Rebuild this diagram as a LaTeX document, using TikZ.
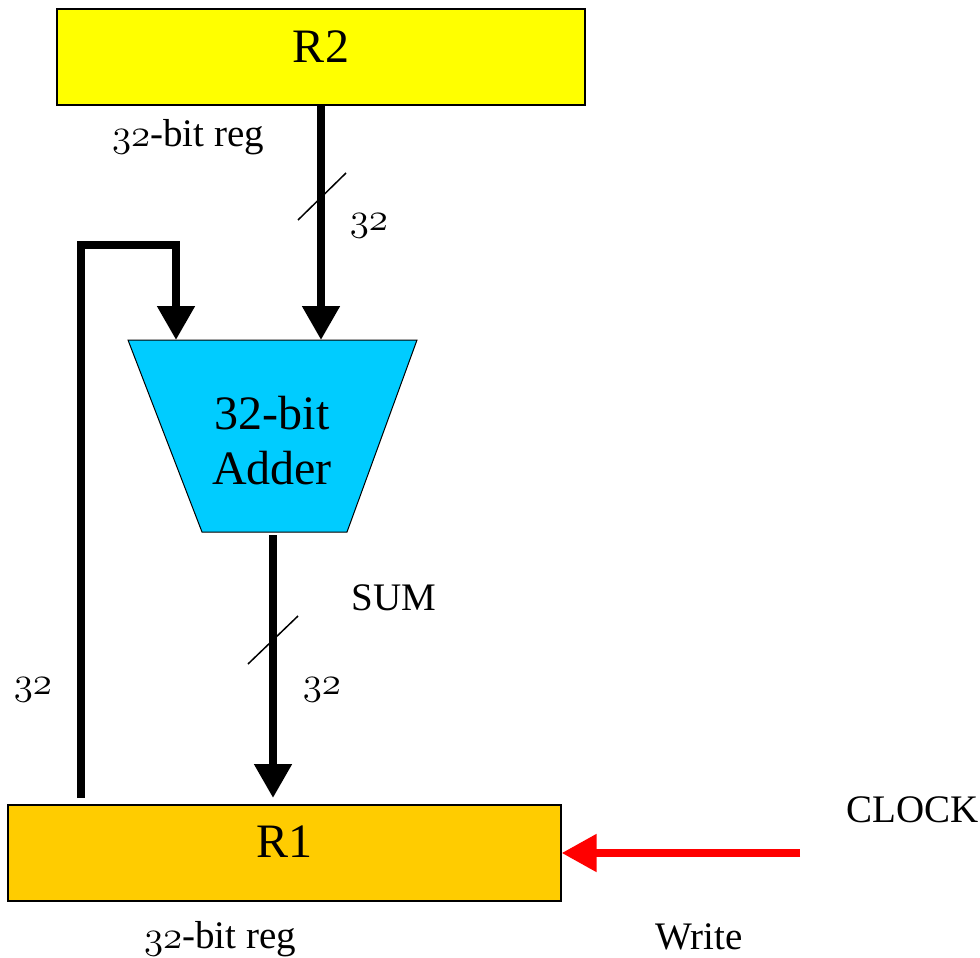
\RequirePackage{fix-cm}
\documentclass[tikz,border=0pt]{standalone}
\usepackage{fontspec}
\setmainfont{Liberation Serif}
\usetikzlibrary{arrows.meta}
\newcommand\osn[1]{{\usefont{OML}{cmm}{m}{it}#1}}
\definecolor{regyellow}{HTML}{FFFF00}
\definecolor{regorange}{HTML}{FFCC00}
\definecolor{addercyan}{HTML}{00CCFF}
\definecolor{clkred}{HTML}{FF0000}
\begin{document}
\begin{tikzpicture}[x=1pt,y=-1pt,
  regbox/.style={draw, line width=1.2pt, minimum height=96pt, inner sep=0pt,
    font=\fontsize{48}{56}\selectfont},
  lbl/.style={inner sep=0pt, font=\fontsize{39}{45}\selectfont},
  bus/.style={line width=8pt, line join=miter},
  busarrow/.style={bus, -{Triangle[width=36pt,length=34pt]}},
  clkarrow/.style={line width=8pt, draw=clkred, -{Triangle[width=36pt,length=35pt,fill=clkred]}},
  slash/.style={line width=1.5pt}]
\useasboundingbox (0,0) rectangle (980,958);

% registers
\node[regbox, fill=regyellow, minimum width=528pt, text depth=20pt] (r2) at (321,57) {R2};
\node[regbox, fill=regorange, minimum width=553pt, text depth=22pt] (r1) at (284.5,853) {R1};

% adder
\coordinate (a1) at (128,340);
\coordinate (a2) at (417,340);
\coordinate (a3) at (347,532);
\coordinate (a4) at (202,532);
\filldraw[fill=addercyan, draw=black, line width=1pt] (a1) -- (a2) -- (a3) -- (a4) -- cycle;
\node[font=\fontsize{48}{55}\selectfont, align=center, inner sep=0pt] (adder) at (272,441) {32-bit\\Adder};

% connector points
\coordinate (in1) at (176,340);
\coordinate (in2) at (321,340);
\coordinate (out) at (273,535);
\coordinate (sumend) at (273,798);
\coordinate (fbstart) at (81,798);
\coordinate (fbturn1) at (81,245);
\coordinate (fbturn2) at (176,245);
\coordinate (clk) at (800,853);

% connectors
\draw[busarrow] (r2.south -| in2) -- (in2);
\draw[busarrow] (fbstart) -- (fbturn1) -- (fbturn2) -- (in1);
\draw[busarrow] (out) -- (sumend);
\draw[clkarrow] (clk) -- (r1.east);

% bus-width slashes
\draw[slash] (298,220) -- (346,173);
\draw[slash] (248,664) -- (298,616);

% labels
\node[lbl, anchor=base] (r2lbl) at (188,146) {\osn{32}-bit reg};
\node[lbl, anchor=base] (bus1lbl) at (369,230) {\osn{32}};
\node[lbl, anchor=base] (sumlbl) at (394,610) {SUM};
\node[lbl, anchor=base] (bus2lbl) at (322,694) {\osn{32}};
\node[lbl, anchor=base] (fblbl) at (33,694) {\osn{32}};
\node[lbl, anchor=base] (clklbl) at (913,822) {CLOCK};
\node[lbl, anchor=base] (r1lbl) at (220,948) {\osn{32}-bit reg};
\node[lbl, anchor=base] (wrlbl) at (699,949) {Write};
\end{tikzpicture}
\end{document}
